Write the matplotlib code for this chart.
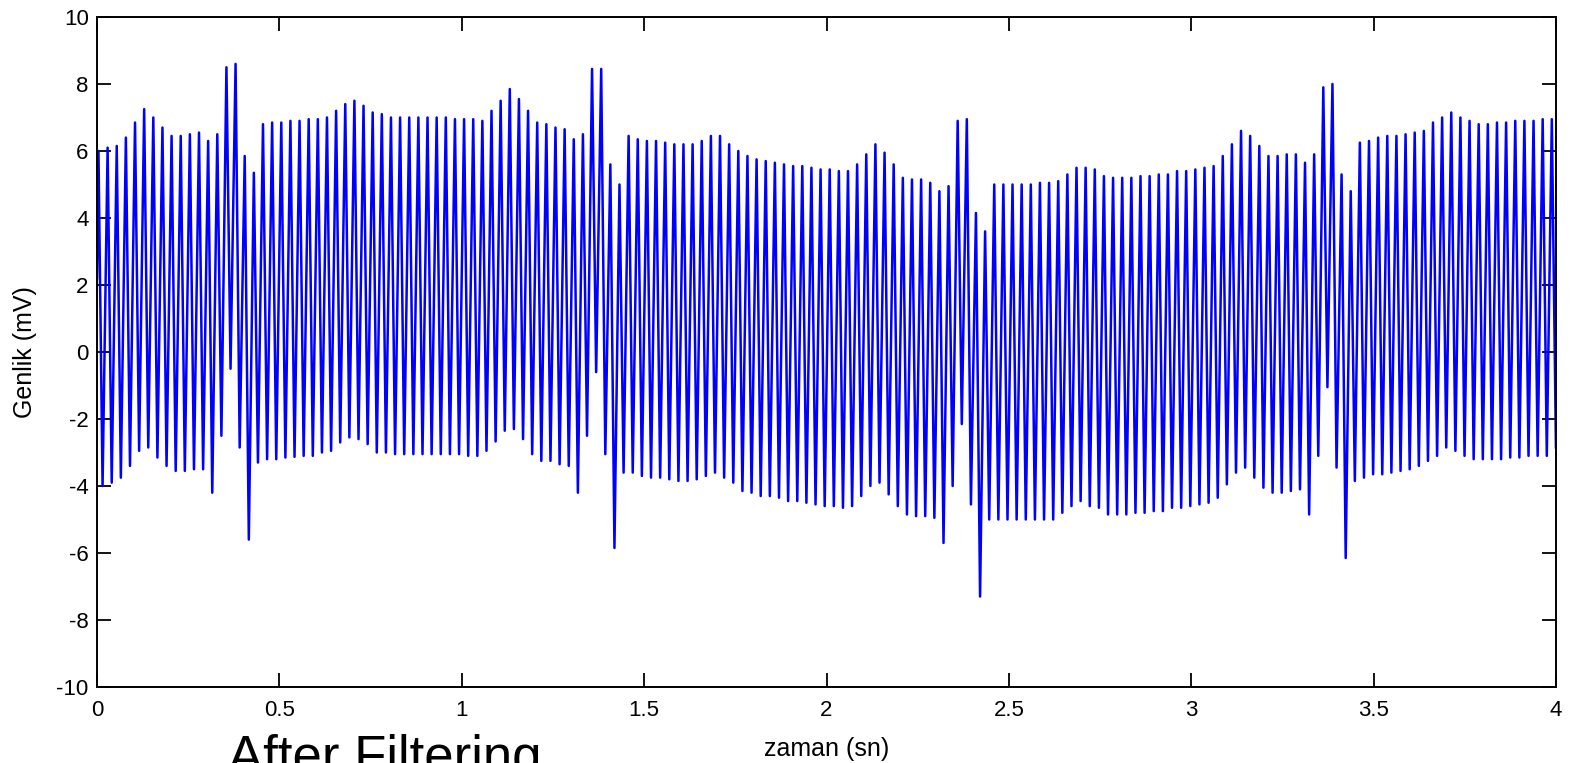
import matplotlib.pyplot as plt
import numpy as np

# peak (max) of each cycle, mV
peaks = [
    6.0, 6.1, 6.15, 6.4, 6.85, 7.25, 7.0, 6.7, 6.45, 6.45,
    6.5, 6.55, 6.3, 6.5, 8.5, 8.6, 5.85, 5.35, 6.8, 6.85,
    6.85, 6.9, 6.9, 6.95, 6.95, 7.0, 7.2, 7.4, 7.5, 7.35,
    7.15, 7.1, 7.0, 7.0, 7.0, 7.0, 7.0, 7.0, 7.0, 6.95,
    6.95, 6.95, 6.9, 7.2, 7.5, 7.85, 7.55, 7.2, 6.85, 6.8,
    6.7, 6.65, 6.35, 6.5, 8.45, 8.45, 5.6, 5.0, 6.45, 6.35,
    6.3, 6.3, 6.25, 6.2, 6.2, 6.2, 6.3, 6.45, 6.45, 6.2,
    6.0, 5.85, 5.75, 5.7, 5.65, 5.6, 5.55, 5.55, 5.5, 5.45,
    5.45, 5.4, 5.4, 5.6, 5.9, 6.2, 5.95, 5.6, 5.2, 5.15,
    5.15, 5.05, 4.8, 4.95, 6.9, 6.95, 4.15, 3.6, 5.0, 5.0,
    5.0, 5.0, 5.0, 5.05, 5.05, 5.1, 5.3, 5.5, 5.5, 5.45,
    5.25, 5.2, 5.2, 5.2, 5.25, 5.25, 5.3, 5.3, 5.4, 5.4,
    5.45, 5.5, 5.55, 5.85, 6.2, 6.6, 6.45, 6.15, 5.85, 5.85,
    5.9, 5.9, 5.65, 5.9, 7.9, 8.0, 5.3, 4.8, 6.25, 6.3,
    6.4, 6.45, 6.45, 6.5, 6.55, 6.6, 6.85, 7.0, 7.15, 7.0,
    6.9, 6.8, 6.8, 6.85, 6.85, 6.9, 6.9, 6.9, 6.95, 6.95,
]

# trough (min) following each peak, mV
troughs = [
    -4.0, -3.9, -3.75, -3.4, -2.95, -2.85, -3.15, -3.4, -3.55, -3.55,
    -3.5, -3.5, -4.2, -2.5, -0.5, -2.85, -5.6, -3.3, -3.2, -3.2,
    -3.15, -3.13, -3.1, -3.1, -3.0, -2.95, -2.7, -2.55, -2.6, -2.75,
    -3.0, -3.0, -3.05, -3.05, -3.05, -3.05, -3.05, -3.05, -3.05, -3.05,
    -3.1, -3.1, -2.95, -2.67, -2.35, -2.3, -2.6, -3.05, -3.25, -3.25,
    -3.35, -3.4, -4.2, -2.5, -0.6, -3.05, -5.85, -3.6, -3.6, -3.7,
    -3.75, -3.75, -3.8, -3.85, -3.85, -3.8, -3.7, -3.6, -3.75, -3.9,
    -4.15, -4.2, -4.3, -4.3, -4.35, -4.45, -4.45, -4.5, -4.55, -4.6,
    -4.6, -4.65, -4.6, -4.3, -4.0, -3.9, -4.25, -4.6, -4.85, -4.9,
    -4.9, -4.95, -5.7, -4.0, -2.15, -4.55, -7.3, -5.0, -5.0, -5.0,
    -5.0, -5.0, -5.0, -5.0, -5.0, -4.8, -4.6, -4.45, -4.6, -4.65,
    -4.85, -4.85, -4.85, -4.8, -4.8, -4.75, -4.75, -4.65, -4.65, -4.6,
    -4.55, -4.5, -4.35, -3.95, -3.6, -3.45, -3.75, -4.05, -4.2, -4.2,
    -4.15, -4.1, -4.85, -3.1, -1.05, -3.45, -6.15, -3.85, -3.75, -3.65,
    -3.65, -3.6, -3.55, -3.5, -3.4, -3.25, -3.1, -2.85, -2.95, -3.1,
    -3.2, -3.2, -3.2, -3.2, -3.15, -3.15, -3.1, -3.1, -3.1, -2.85,
]

start_value = 2.2      # signal value at t = 0
first_peak_t = 0.004   # s
period = 0.02506       # s, one cycle

x_ticks = [0, 0.5, 1, 1.5, 2, 2.5, 3, 3.5, 4]
x_tick_labels = ['0', '0.5', '1', '1.5', '2', '2.5', '3', '3.5', '4']
y_ticks = [-10, -8, -6, -4, -2, 0, 2, 4, 6, 8, 10]

plt.rcParams['font.family'] = ['Liberation Sans', 'DejaVu Sans']
plt.rcParams['axes.unicode_minus'] = False

# build the time axis of the samples
n = len(peaks)
t_peak = first_peak_t + np.arange(n) * period
t_trough = t_peak + 0.45 * period
t = np.empty(2 * n)
y = np.empty(2 * n)
t[0::2] = t_peak
t[1::2] = t_trough
y[0::2] = peaks
y[1::2] = troughs
t = np.concatenate([[0.0], t])
y = np.concatenate([[start_value], y])

fig = plt.figure(figsize=(15.72, 7.63), dpi=100)
ax = fig.add_axes([97 / 1572, 76 / 763, 1459 / 1572, 670 / 763])

ax.plot(t, y, color='#0000ff', linewidth=1.8)

ax.set_xlim(0, 4)
ax.set_ylim(-10, 10)
ax.set_xticks(x_ticks)
ax.set_xticklabels(x_tick_labels)
ax.set_yticks(y_ticks)
ax.tick_params(direction='in', length=10, width=1.3, labelsize=16,
               top=True, right=True)
ax.tick_params(axis='x', pad=9)
ax.tick_params(axis='y', pad=6)
for s in ax.spines.values():
    s.set_linewidth(1.4)

ax.set_xlabel('zaman (sn)', fontsize=18, labelpad=12)
ax.set_ylabel('Genlik (mV)', fontsize=18, labelpad=14)

fig.text(228 / 1572, -10 / 763, 'After Filtering', fontsize=38,
         ha='left', va='baseline')

fig.savefig('out.png', dpi=100)
